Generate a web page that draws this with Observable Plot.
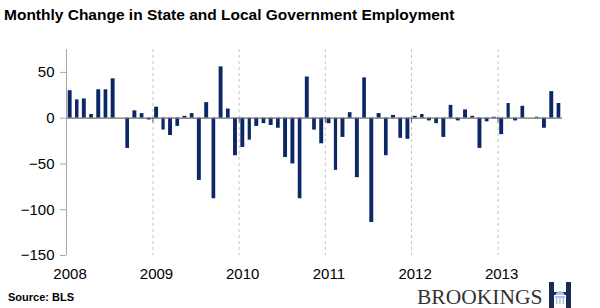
<!DOCTYPE html>
<html><head><meta charset="utf-8">
<script src="https://cdn.jsdelivr.net/npm/d3@7"></script>
<script src="https://cdn.jsdelivr.net/npm/@observablehq/plot@0.6"></script>
<style>
body{margin:0;background:#fff;font-family:"Liberation Sans",Arial,sans-serif;}
#wrap{position:relative;width:600px;height:308px;overflow:hidden;background:#fff;}
#title{position:absolute;left:4px;top:6px;font-weight:bold;font-size:15.5px;color:#000;white-space:nowrap;}
#chart{position:absolute;left:0;top:30px;}
#source{position:absolute;left:8px;top:291px;font-weight:bold;font-size:11px;color:#000;white-space:nowrap;}
#brand{position:absolute;left:417px;top:285px;font-family:"Liberation Serif","Times New Roman",serif;font-size:21.5px;color:#333;white-space:nowrap;}
#logo{position:absolute;left:549px;top:282px;}
</style></head>
<body><div id="wrap">
<div id="title">Monthly Change in State and Local Government Employment</div>
<div id="chart"></div>
<div id="source">Source: BLS</div>
<div id="brand">BROOKINGS</div>
<svg id="logo" width="22" height="26" viewBox="0 0 22 26">
  <rect x="0" y="0" width="5" height="26" fill="#1b2a4e"/>
  <rect x="17" y="0" width="5" height="26" fill="#1b2a4e"/>
  <rect x="5" y="10" width="12" height="3" fill="#1b2a4e"/>
  <path d="M6,13 Q11,5 16,13 Z" fill="#a9c4e6"/>
  <rect x="6" y="14" width="10" height="2" fill="#a9c4e6"/>
  <rect x="7" y="16" width="1.5" height="6" fill="#a9c4e6"/>
  <rect x="10.2" y="16" width="1.5" height="6" fill="#a9c4e6"/>
  <rect x="13.5" y="16" width="1.5" height="6" fill="#a9c4e6"/>
</svg>
</div>
<script>
// Monthly change (thousands), Jan 2008 – Sep 2013
const values2008 = [30, 20, 21, 4, 31, 31, 43, 0, -33, 8, 5, -2];
const values2009 = [12, -13, -19, -9, 2, 5, -68, 17, -88, 56, 10, -41];
const values2010 = [-32, -24, -9, -6, -8, -11, -43, -50, -88, 45, -13, -28];
const values2011 = [-6, -57, -21, 6, -65, 44, -114, 5, -41, 3, -22, -23];
const values2012 = [2, 4, -3, -6, -21, 14, -3, 9, 2, -33, -4, 1];
const values2013 = [-18, 16, -3, 13, 0, 1, -11, 29, 16];
const years = [2008, 2009, 2010, 2011, 2012, 2013];
const yTicks = [50, 0, -50, -100, -150];

const values = [].concat(values2008, values2009, values2010, values2011, values2012, values2013);
const start = new Date(Date.UTC(2008, 0, 1));
const end = new Date(Date.UTC(2013, 9, 1));
const months = d3.utcMonth.range(start, end);
const data = months.map((d, i) => ({date: d, next: d3.utcMonth.offset(d, 1), value: values[i]}));
const yearStarts = years.map(y => new Date(Date.UTC(y, 0, 1)));
const gridYears = yearStarts.slice(1);
const labelDates = years.map(y => new Date(Date.UTC(y, 0, 16)));

const chart = Plot.plot({
  width: 600, height: 256,
  marginLeft: 66, marginRight: 38, marginTop: 19, marginBottom: 31,
  style: {fontFamily: "'Liberation Sans', Arial, sans-serif", fontSize: "15px", color: "#000", background: "transparent"},
  x: {type: "utc", domain: [start, end]},
  y: {domain: [-150, 75]},
  marks: [
    Plot.ruleX(gridYears, {stroke: "#c4c4c4", strokeDasharray: "3,3"}),
    Plot.rectY(data, {x1: "date", x2: "next", y1: 0, y2: "value", fill: "#0b2766", insetLeft: 1.7, insetRight: 1.7}),
    Plot.ruleY([0], {stroke: "#6e6e6e", strokeWidth: 1.3}),
    Plot.ruleX(yearStarts, {y1: 0, y2: -5, stroke: "#555"}),
    Plot.ruleX([start], {stroke: "#a6a6a6"}),
    Plot.axisY({ticks: yTicks, tickSize: 6, tickPadding: 6, stroke: "#a6a6a6", fill: "#000", label: null}),
    Plot.axisX({ticks: labelDates, tickSize: 0, tickPadding: 13, tickFormat: d3.utcFormat("%Y"), fill: "#000", label: null})
  ]
});
document.getElementById("chart").appendChild(chart);
</script>
</body></html>
